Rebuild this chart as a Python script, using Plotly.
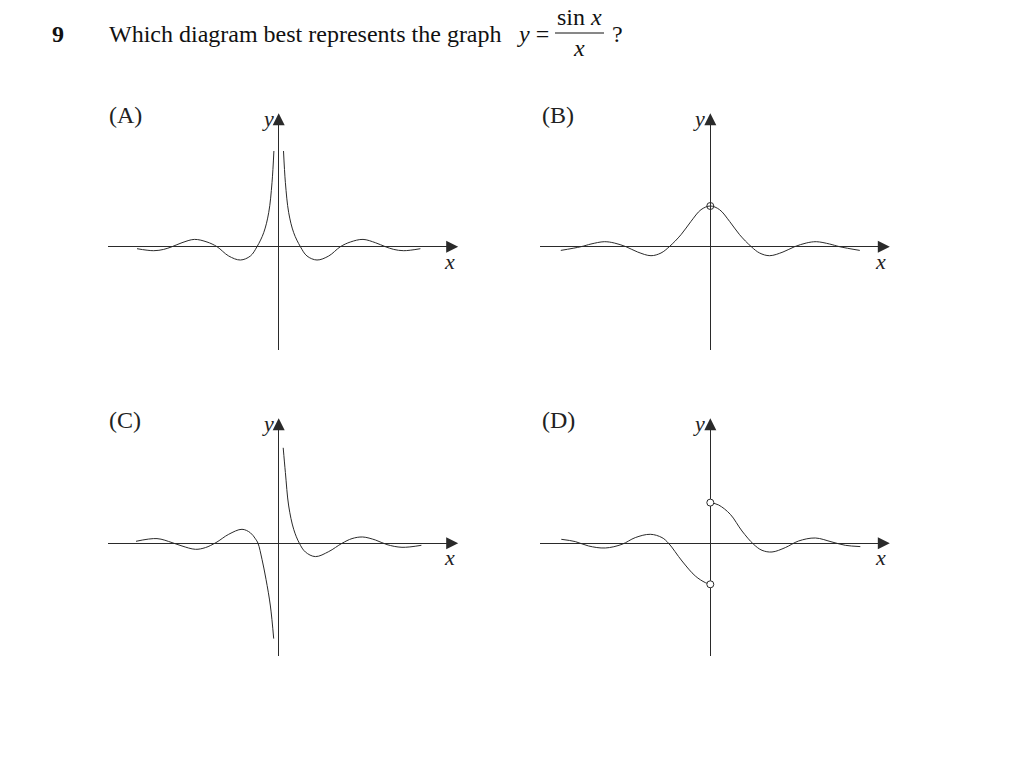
import plotly.graph_objects as go

W, H = 1010, 772

# ---- values (units: pixels relative to each panel origin, y up) ----
# (A) right branch; the picture is mirror-symmetric about the y-axis
a_x = [4.8, 6.7, 10, 15, 21.7, 28.3, 38.3, 50, 61.7, 71.7, 84.3, 96.7, 106.7, 115, 125, 141.7]
a_y = [95.7, 64, 34, 14, 0, -9.3, -13.3, -9.3, 0, 4.7, 7.3, 4, 0, -2.7, -4, -2]

# (B) right half (symmetric), peak with open circle at x = 0
b_x = [0, 9.3, 19.3, 29.3, 41, 49.3, 59.3, 72.7, 84.3, 96, 106, 119.3, 129.3, 149.5]
b_y = [40.7, 37, 25.3, 12, 0, -6.3, -9, -5.3, 0, 3.7, 5, 2.7, 0, -3.7]

# (C) left and right branches
c_left_x = [-142.7, -121.7, -106.7, -96.7, -83.3, -73.3, -62.7, -50, -36.7, -28.3, -23.3, -20.7, -16.7, -12.7, -8.3, -5.0]
c_left_y = [2, 4.7, 0.7, -2.7, -6, -4.3, 0.7, 9, 14, 10.5, 4.5, 0, -16, -36, -62.7, -95.3]
c_right_x = [4.5, 6.7, 10, 15, 20.7, 26.7, 36.7, 50, 63.3, 73.3, 84, 96.7, 108.3, 123.3, 142.7]
c_right_y = [95.5, 70.7, 37.3, 14, 0, -8.7, -13.3, -8.3, 0, 4.7, 6.3, 3.3, -1.3, -4, -2]

# (D) left and right branches, open circles at the jump
d_left_x = [-149, -135, -121.7, -105, -88.3, -75, -60, -48.3, -41.7, -28.3, -15, -5, 0]
d_left_y = [4, 1.7, -2.7, -4.7, -1, 5.7, 9, 5.7, 0, -17.7, -32.7, -39.3, -41]
d_right_x = [0, 8.3, 20, 31.7, 43.3, 51.7, 61.7, 75, 88.3, 105, 121.7, 135, 150]
d_right_y = [40.7, 38.3, 29, 12.3, -1, -7, -8.7, -4.3, 2.3, 5.3, 1.3, -2, -3.3]
d_circle_y = [40.7, -41]

panel_labels = ["(A)", "(B)", "(C)", "(D)"]

# ---- layout constants (page pixels) ----
ORIG = {"A": (278.7, 246.7), "B": (710.3, 246.7), "C": (278.7, 543.3), "D": (710.3, 543.3)}
X_AX = (-170.5, 179.5)                       # x-axis extent (start .. arrow tip)
Y_AX = {1: (-103.3, 133.4), 2: (-112.4, 125.0)}  # y-axis extent (bottom .. arrow tip)
HEAD = 11
LINE = "#2a2a2a"
SERIF = "Liberation Serif, Times New Roman, serif"

fig = go.Figure()

def axes_names(i):
    return ("x" if i == 1 else f"x{i}"), ("y" if i == 1 else f"y{i}")

def add_curve(i, xs, ys):
    xa, ya = axes_names(i)
    fig.add_trace(go.Scatter(x=xs, y=ys, mode="lines", xaxis=xa, yaxis=ya,
                             line=dict(color=LINE, width=1, shape="spline", smoothing=1.0),
                             hoverinfo="skip", showlegend=False, cliponaxis=False))

# A
add_curve(1, a_x, a_y)
add_curve(1, [-v for v in a_x], a_y)
# B
bx = [-v for v in b_x[::-1]] + b_x[1:]
by = b_y[::-1] + b_y[1:]
add_curve(2, bx, by)
fig.add_trace(go.Scatter(x=[0], y=[b_y[0]], mode="markers", xaxis="x2", yaxis="y2",
                         marker=dict(symbol="circle-open", size=7, color=LINE, line=dict(width=1)),
                         hoverinfo="skip", showlegend=False, cliponaxis=False))
# C
add_curve(3, c_left_x, c_left_y)
add_curve(3, c_right_x, c_right_y)
# D
add_curve(4, d_left_x, d_left_y)
add_curve(4, d_right_x, d_right_y)
fig.add_trace(go.Scatter(x=[0, 0], y=d_circle_y, mode="markers", xaxis="x4", yaxis="y4",
                         marker=dict(symbol="circle", size=7, color="white", line=dict(width=1, color=LINE)),
                         hoverinfo="skip", showlegend=False, cliponaxis=False))

layout = dict(width=W, height=H, margin=dict(l=0, r=0, t=0, b=0),
              paper_bgcolor="white", plot_bgcolor="rgba(0,0,0,0)", showlegend=False)
ax_common = dict(showgrid=False, showline=False, ticks="", showticklabels=False,
                 zeroline=True, zerolinecolor=LINE, zerolinewidth=1, fixedrange=True)


def P(px, py):
    return px / W, 1 - py / H


annotations = []
for i, key in enumerate(["A", "B", "C", "D"], start=1):
    ox, oy = ORIG[key]
    row = 1 if key in "AB" else 2
    xa, ya = axes_names(i)
    xk = "xaxis" if i == 1 else f"xaxis{i}"
    yk = "yaxis" if i == 1 else f"yaxis{i}"
    y0, y1 = Y_AX[row]
    layout[xk] = dict(domain=[(ox + X_AX[0]) / W, (ox + X_AX[1] - 2) / W], range=[X_AX[0], X_AX[1] - 2],
                      anchor=ya, **ax_common)
    layout[yk] = dict(domain=[1 - (oy - y0) / H, 1 - (oy - y1 + 2) / H], range=[y0, y1 - 2],
                      anchor=xa, **ax_common)
    # arrow heads
    annotations.append(dict(x=X_AX[1], y=0, ax=X_AX[1] - HEAD, ay=0, xref=xa, yref=ya, axref=xa, ayref=ya,
                            text="", showarrow=True, arrowhead=2, arrowsize=2.4, arrowwidth=1,
                            arrowcolor=LINE, standoff=0))
    annotations.append(dict(x=0, y=y1, ax=0, ay=y1 - HEAD, xref=xa, yref=ya, axref=xa, ayref=ya,
                            text="", showarrow=True, arrowhead=2, arrowsize=2.4, arrowwidth=1,
                            arrowcolor=LINE, standoff=0))
    # axis letters
    annotations.append(dict(x=-11, y=y1 - 5, xref=xa, yref=ya, text="<i>y</i>", showarrow=False,
                            xanchor="center", yanchor="middle", font=dict(family=SERIF, size=22, color="#222")))
    annotations.append(dict(x=170.5, y=-15 if row == 1 else -14, xref=xa, yref=ya, text="<i>x</i>",
                            showarrow=False, xanchor="center", yanchor="middle",
                            font=dict(family=SERIF, size=22, color="#222")))
    # panel label (paper coordinates, so it is never hidden outside the axis range)
    lx, ly = P(ox + (-171.5 if key in "AC" else -170.0), oy - (y1 - 1.5))
    annotations.append(dict(x=lx, y=ly, xref="paper", yref="paper",
                            text=panel_labels[i - 1], showarrow=False, xanchor="left", yanchor="middle",
                            font=dict(family=SERIF, size=24, color="#222")))

hdr_font = dict(family=SERIF, size=24, color="#111")
for txt, px, py, xa_, font in [
    ("<b>9</b>", 50, 34, "left", hdr_font),
    ("Which diagram best represents the graph", 107, 34, "left", hdr_font),
    ("<i>y</i> =", 515, 34, "left", hdr_font),
    ("sin <i>x</i>", 579, 17, "center", hdr_font),
    ("<i>x</i>", 579, 47.5, "center", hdr_font),
    ("?", 610, 34, "left", hdr_font),
]:
    x_, y_ = P(px, py)
    annotations.append(dict(x=x_, y=y_, xref="paper", yref="paper", text=txt, showarrow=False,
                            xanchor=xa_, yanchor="middle", font=font))

bx0, by0 = P(555, 33)
bx1, _ = P(604, 33)
layout["shapes"] = [dict(type="line", xref="paper", yref="paper", x0=bx0, x1=bx1, y0=by0, y1=by0,
                         line=dict(color="#111", width=1))]
layout["annotations"] = annotations
fig.update_layout(**layout)
# remove the default 8px page margin so the figure fills the window exactly
fig.write_html("out.html", config={"displayModeBar": False},
               post_script="document.body.style.margin='0';document.body.style.overflow='hidden';")
